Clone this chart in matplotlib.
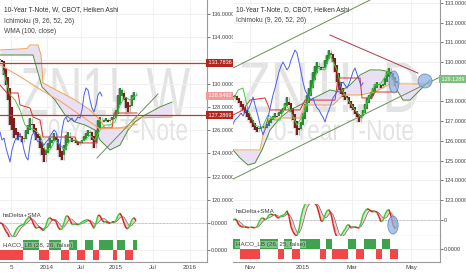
import numpy as np
import pandas as pd
import matplotlib
matplotlib.use("Agg")
import matplotlib.pyplot as plt
from matplotlib.collections import LineCollection
from matplotlib.patches import Ellipse, PathPatch
from matplotlib.textpath import TextPath
from matplotlib.font_manager import FontProperties
from matplotlib.transforms import Affine2D, blended_transform_factory

plt.rcParams['font.family'] = ['Liberation Sans', 'DejaVu Sans']

# ---------------- weekly (left) ----------------
w_close = [132.02, 131.85, 130.73, 129.87, 128.59, 126.44, 126.01, 125.32, 125.58, 125.15,
           125.41, 124.98, 125.32, 126.01, 126.44, 127.04, 126.44, 125.84, 125.15, 125.32,
           124.47, 123.87, 123.26, 124.30, 124.90, 125.32, 125.15, 125.75, 125.15, 124.30,
           123.69, 123.44, 124.72, 125.58, 125.84, 125.32, 124.98, 125.15, 124.90, 124.72,
           124.98, 125.15, 125.50, 125.75, 126.01, 125.84, 125.15, 124.47, 126.01, 126.87,
           127.13, 126.70, 126.87, 127.04, 126.70, 126.87, 127.13, 127.04, 127.73, 129.02,
           129.62, 129.45, 128.59, 127.90, 127.56, 128.16, 129.02, 129.27, 128.93]

w_tenkan_x = [1.5, 5, 7.5, 10, 12.5, 15, 17.5, 20, 22.5, 25, 27.5, 30, 32.5, 35, 37.5, 40,
              42.5, 45, 47.5, 50, 52.5, 55, 57.5, 60, 62.5, 65, 68.5]
w_tenkan = [131.16, 129.02, 128.59, 127.73, 126.44, 126.18, 126.01, 125.58, 124.30, 124.30,
            125.15, 124.72, 124.30, 125.15, 125.15, 124.98, 125.15, 125.58, 125.15, 126.01,
            126.44, 126.44, 126.70, 128.16, 128.84, 128.59, 129.02]
w_kijun_x = [0, 3.5, 9, 10, 15, 16.5, 20, 21.5, 37.5, 38.5, 48.5, 49, 56, 57, 68.5]
w_kijun = [129.87, 129.19, 129.19, 128.16, 127.90, 127.13, 126.87, 125.41, 125.41, 124.90,
           124.90, 126.18, 126.18, 127.47, 127.47]
w_spanA_x = [0, 16.5, 21, 27.5, 32.5, 37.5, 42.5, 47.5, 50, 55, 60, 64, 67.5, 72.5, 80, 86]
w_spanA = [132.45, 132.45, 129.70, 128.59, 127.30, 126.70, 126.44, 126.01, 125.15, 124.30,
           124.72, 126.01, 126.70, 127.30, 127.99, 128.41]
w_spanB_x = [0, 13.5, 15, 19, 20.5, 21.5, 30, 37.5, 45, 50, 52.5, 65, 67.5, 86]
w_spanB = [132.88, 133.00, 133.31, 133.31, 132.45, 130.05, 129.27, 128.59, 127.73, 126.87,
           126.18, 126.18, 127.04, 127.13]
w_wma_x = [0, 10, 20, 30, 40, 50, 60, 68.5]
w_wma = [131.6, 130.6, 129.5, 128.5, 127.3, 126.1, 126.2, 126.5]

w_levels = [131.7836, 127.2869]
w_last = 128.9492
w_trend = ([48.5, 79], [123.61, 129.10])
w_haco = [("r", 12), ("g", 8), ("r", 5), ("g", 6), ("r", 4), ("g", 4), ("r", 4), ("g", 4),
          ("r", 3), ("g", 7), ("r", 2), ("g", 4), ("r", 4), ("g", 2)]
w_ticks = [5.5, 23.5, 40.5, 58, 76.5, 95]
w_ticklabels = ["5", "2014", "Jul", "2015", "Jul", "2016"]
w_yticks = [120, 122, 124, 126, 128, 130, 132, 134, 136]

# ---------------- daily (right) ----------------
d_close = [128.23, 128.33, 128.07, 127.92, 127.72, 127.57, 127.41, 127.21, 127.06, 126.91,
           126.70, 126.55, 126.45, 126.65, 126.70, 126.75, 126.65, 126.86, 127.06, 127.16,
           127.26, 127.41, 127.26, 127.46, 127.57, 127.67, 127.92, 128.23, 127.82, 127.46,
           127.06, 126.65, 126.30, 126.55, 126.96, 127.41, 127.87, 128.33, 128.68, 129.09,
           129.50, 129.80, 130.00, 129.80, 129.60, 129.75, 130.10, 130.36, 130.61, 130.46,
           130.00, 129.50, 128.99, 128.58, 128.38, 128.23, 128.07, 128.18, 127.87, 127.67,
           127.57, 127.36, 127.21, 126.96, 127.31, 127.57, 127.87, 128.18, 128.33, 128.48,
           128.68, 128.89, 128.99, 128.84, 128.68, 128.89, 129.19, 129.50, 129.70, 129.39,
           129.09, 128.79, 128.94]

d_tenkan_x = [0, 2.5, 5, 7.5, 11, 14.5, 17.5, 21, 23.5, 26, 28.5, 32, 35, 38.5, 42.5, 46,
              48.5, 52, 54.5, 57.5, 61, 64.5, 67.5, 71, 73.5, 77.5, 81]
d_tenkan = [128.07, 128.58, 128.68, 127.57, 126.80, 126.65, 127.31, 127.06, 127.06, 127.82,
            127.57, 126.80, 127.31, 128.33, 129.70, 129.60, 130.36, 129.60, 128.58, 128.07,
            127.57, 127.16, 128.07, 128.84, 128.84, 129.50, 128.99]
d_kijun_x = [0, 5, 8.5, 16, 18.5, 33.5, 36, 51, 52.5, 63.5, 64.5, 69.5, 71, 82]
d_kijun = [127.31, 127.57, 128.07, 128.18, 127.57, 127.57, 128.07, 128.07, 129.19, 129.19,
           128.18, 128.18, 128.48, 128.48]
d_spanA_x = [0, 3.5, 7.5, 11, 14.5, 18.5, 23.5, 28.5, 33.5, 38.5, 43.5, 48.5, 53.5, 58.5,
             63.5, 68.5, 73.5, 78.5, 82, 85, 88.5, 93.5, 98.5]
d_spanA = [125.54, 125.13, 124.77, 124.88, 125.54, 126.55, 127.16, 127.57, 127.82, 128.07,
           128.33, 128.58, 128.48, 128.84, 129.34, 129.60, 129.60, 129.50, 128.58, 128.07,
           128.07, 128.58, 129.09]
d_spanB_x = [0, 13.5, 16, 18.5, 33.5, 36, 50, 55, 63.5, 71, 78.5, 98.5]
d_spanB = [125.54, 125.54, 126.80, 127.16, 127.16, 127.82, 127.82, 128.33, 128.33, 128.48,
           128.89, 128.89]

d_last = 129.1289
d_upper = ([0, 68.5], [129.70, 133.15])
d_lower = ([0, 103.5], [124.06, 129.24])
d_resist = ([48.5, 92.5], [131.37, 129.44])
d_marks = [(80.5, 128.99, 5, 1.12), (96, 129.04, 7, 0.71)]
d_haco = [("g", 4), ("r", 10), ("g", 9), ("r", 3), ("g", 4), ("r", 4), ("g", 10), ("r", 3),
          ("g", 3), ("r", 8), ("g", 4), ("r", 4), ("g", 6), ("r", 3), ("g", 4), ("r", 4)]
d_ticks = [8.5, 35, 59.5, 89]
d_ticklabels = ["Nov", "2015", "Mar", "May"]
d_yticks = [123, 124, 125, 126, 127, 128, 129, 130, 131, 132, 133]

W, H = 466, 275
fig = plt.figure(figsize=(W / 100, H / 100), dpi=100)
GRID = '#efefef'
AX = '#9a9a9a'
TXT = '#444444'


def px_axes(x0, y0, x1, y1):
    return fig.add_axes([x0 / W, 1 - y1 / H, (x1 - x0) / W, (y1 - y0) / H])


def style(ax, xticks):
    for s in ['top', 'left']:
        ax.spines[s].set_visible(False)
    for s in ['bottom', 'right']:
        ax.spines[s].set_color(AX)
        ax.spines[s].set_linewidth(0.8)
    ax.yaxis.tick_right()
    ax.tick_params(axis='y', labelsize=4, colors=TXT, length=2, width=0.5, pad=1)
    ax.tick_params(axis='x', length=0, labelsize=4.5, colors=TXT, pad=2)
    ax.set_xticks(xticks)
    ax.set_xticklabels([])
    ax.grid(color=GRID, lw=0.6)
    ax.set_axisbelow(True)
    ax.set_xlim(0, 103.5)


def price_ticks(ax, ticks, hidden):
    ax.set_yticks(ticks)
    ax.set_yticklabels(["" if v == hidden else "%.4f" % v for v in ticks])


def watermark(ax, text, x0, y0, x1, y1):
    fp = FontProperties(family='Liberation Sans')
    tp = TextPath((0, 0), text, size=10, prop=fp)
    bb = tp.get_extents()
    cap = TextPath((0, 0), "N", size=10, prop=fp).get_extents().height
    sx = (x1 - x0) / bb.width
    sy = (y1 - y0) / cap
    tr = (Affine2D().translate(-bb.x0, 0).scale(sx, sy).translate(x0, H - y1)
          .scale(1 / 100) + fig.dpi_scale_trans)
    ax.add_artist(PathPatch(tp, transform=tr, fc='#e3e3e3', ec='none', zorder=0.5))


def heiken(close):
    c = np.array(close, dtype=float)
    o = np.empty_like(c)
    o[0] = c[0]
    for i in range(1, len(c)):
        o[i] = (o[i - 1] + c[i - 1]) / 2
    return c, o


def candles(ax, close):
    c, o = heiken(close)
    x = np.arange(len(c))
    nb = np.r_[c[:1], c[:-1]]
    na = np.r_[c[1:], c[-1:]]
    hi = np.maximum.reduce([o, c, nb, na])
    lo = np.minimum.reduce([o, c, nb, na])
    ax.vlines(x, lo, hi, color='#bdbdbd', lw=1.0, zorder=3)
    body = c - o
    body = np.where(np.abs(body) < 0.06, np.sign(body + 1e-9) * 0.06, body)
    up = c >= o
    ax.bar(x[up], body[up], bottom=o[up], width=0.75, color='#2b8a36', zorder=4)
    ax.bar(x[~up], body[~up], bottom=o[~up], width=0.75, color='#7f1d1d', zorder=4)
    ax.vlines(x, np.minimum(o, c), np.maximum(o, c), color='#333333', lw=0.3, zorder=3.5)
    # lagging span
    ax.plot(x[:-17], c[17:], color='#4a5ef0', lw=0.7, zorder=5)
    return c, o


def ichimoku(ax, tx, tv, kx, kv, ax_, av, bx, bv):
    grid = np.union1d(ax_, bx)
    a = np.interp(grid, ax_, av)
    b = np.interp(grid, bx, bv)
    ax.fill_between(grid, a, b, color='#e9e1f3', lw=0, zorder=1)
    ax.plot(ax_, av, color='#4c8f3c', lw=0.7, zorder=5)
    ax.plot(bx, bv, color='#f0a548', lw=0.7, zorder=5)
    ax.plot(kx, kv, color='#d8302c', lw=0.7, zorder=5)
    ax.plot(tx, tv, color='#3ed13e', lw=0.7, zorder=5)


def price_box(ax, y, label, fc):
    tr = blended_transform_factory(ax.transAxes, ax.transData)
    ax.text(1.0, y, " " + label + " ", transform=tr, ha='left', va='center', fontsize=4,
            color='white', clip_on=False, zorder=20,
            bbox=dict(boxstyle='square,pad=0.25', fc=fc, ec='none'))


def delta_panel(ax, c, o, xticks, label):
    d = pd.Series(c - o)
    osc = d.rolling(2, min_periods=1).mean().values
    sig = pd.Series(osc).rolling(4, min_periods=1).mean().values
    x = np.arange(len(osc))
    lim = np.abs(osc).max() * 0.85
    ax.fill_between(x, osc, sig, color='#f6caca', alpha=0.8, lw=0)
    ax.plot(x, sig, color='#555555', lw=0.4)
    pts = np.column_stack([x, osc]).reshape(-1, 1, 2)
    segs = np.concatenate([pts[:-1], pts[1:]], axis=1)
    cols = ['#35d035' if osc[i + 1] >= osc[i] else '#e02424' for i in range(len(osc) - 1)]
    ax.add_collection(LineCollection(segs, colors=cols, lw=1.1, zorder=4))
    ax.axhline(0, color='#999999', lw=0.5, ls=(0, (1, 1)))
    ax.set_ylim(-lim, lim)
    style(ax, xticks)
    ax.set_yticks([0])
    ax.text(0.015, 0.72, label, transform=ax.transAxes, fontsize=4.5, color=TXT, zorder=10)


def haco_panel(ax, runs, xticks, xlabels, label):
    states = [s for s, n in runs for _ in range(n)]
    x = np.arange(len(states))
    g = np.array([s == "g" for s in states])
    ax.bar(x[g], 1, bottom=0, width=1.0, color='#3fa34d', lw=0)
    ax.bar(x[~g], -1, bottom=0, width=1.0, color='#f04848', lw=0)
    ax.set_ylim(-1.25, 1.25)
    style(ax, xticks)
    ax.set_yticks([0])
    ax.set_yticklabels(["0.0000"])
    ax.set_xticklabels(xlabels)
    ax.text(0.015, 0.62, label, transform=ax.transAxes, fontsize=4.5, color=TXT, zorder=10,
            bbox=dict(boxstyle='square,pad=0.1', fc='white', ec='none', alpha=0.35))


# ---------- left: weekly ----------
axL = px_axes(0, 0, 207, 209)
style(axL, w_ticks)
axL.set_ylim(137.17 - 209 / 11.65, 137.17)
price_ticks(axL, w_yticks, 132)
watermark(axL, "ZN1!, W", 22, 68, 190, 115)
watermark(axL, "10-Year T-Note", 37, 119, 187, 140)
ichimoku(axL, w_tenkan_x, w_tenkan, w_kijun_x, w_kijun, w_spanA_x, w_spanA, w_spanB_x, w_spanB)
axL.plot(w_wma_x, w_wma, color='#f4a56a', lw=0.8, zorder=5)
wc, wo = candles(axL, w_close)
for lv in w_levels:
    axL.axhline(lv, color='#c0392b', lw=0.9, zorder=6)
axL.plot(*w_trend, color='#6b8e5a', lw=0.7, zorder=6)
price_box(axL, w_levels[0], "%.4f" % w_levels[0], '#b3261e')
price_box(axL, w_last, "%.4f" % w_last, '#f19a9a')
price_box(axL, w_levels[1], "%.4f" % w_levels[1], '#b3261e')
axL.text(0.02, 0.97, "10-Year T-Note, W, CBOT, Heiken Ashi", transform=axL.transAxes,
         fontsize=4.8, color='#333333', va='top')
axL.text(0.02, 0.915, "Ichimoku (9, 26, 52, 26)", transform=axL.transAxes, fontsize=4.8, color=TXT, va='top')
axL.text(0.02, 0.865, "WMA (100, close)", transform=axL.transAxes, fontsize=4.8, color=TXT, va='top')

axL2 = px_axes(0, 209, 207, 237)
delta_panel(axL2, wc, wo, w_ticks, "haDelta+SMA")
axL2.set_yticklabels(["0.0000"])
axL3 = px_axes(0, 237, 207, 262)
haco_panel(axL3, w_haco, w_ticks, w_ticklabels, "HACO_LB (28, 26, false)")

# ---------- right: daily ----------
axR = px_axes(233, 0, 440, 204)
style(axR, d_ticks)
axR.set_ylim(133.15 - 204 / 19.7, 133.15)
price_ticks(axR, d_yticks, 129)
watermark(axR, "ZN1!, D", 240, 62, 418, 112)
watermark(axR, "10-Year T-Note", 263, 120, 413, 140)
ichimoku(axR, d_tenkan_x, d_tenkan, d_kijun_x, d_kijun, d_spanA_x, d_spanA, d_spanB_x, d_spanB)
dc, do = candles(axR, d_close)
axR.plot(*d_upper, color='#6b8e5a', lw=0.7, zorder=6)
axR.plot(*d_lower, color='#6b8e5a', lw=0.7, zorder=6)
axR.plot(*d_resist, color='#b03a48', lw=0.7, zorder=6)
for mx, my, mw, mh in d_marks:
    axR.add_patch(Ellipse((mx, my), mw, mh, fc='#8fb3e0', ec='#4a78c0', lw=0.6, alpha=0.75, zorder=7))
price_box(axR, d_last, "%.4f" % d_last, '#7dbf7d')
axR.text(0.015, 0.97, "10-Year T-Note, D, CBOT, Heiken Ashi", transform=axR.transAxes,
         fontsize=4.8, color='#333333', va='top')
axR.text(0.015, 0.915, "Ichimoku (9, 26, 52, 26)", transform=axR.transAxes, fontsize=4.8, color=TXT, va='top')

axR2 = px_axes(233, 204, 440, 236)
delta_panel(axR2, dc, do, d_ticks, "haDelta+SMA")
axR2.set_yticklabels(["0"])
axR2.add_patch(Ellipse((0.773, 0.34), 0.05, 0.56, transform=axR2.transAxes, fc='#8fb3e0',
                       ec='#4a78c0', lw=0.6, alpha=0.75, zorder=7))
axR3 = px_axes(233, 236, 440, 262)
haco_panel(axR3, d_haco, d_ticks, d_ticklabels, "HACO_LB (26, 25, false)")

fig.savefig("out.png", dpi=100)
